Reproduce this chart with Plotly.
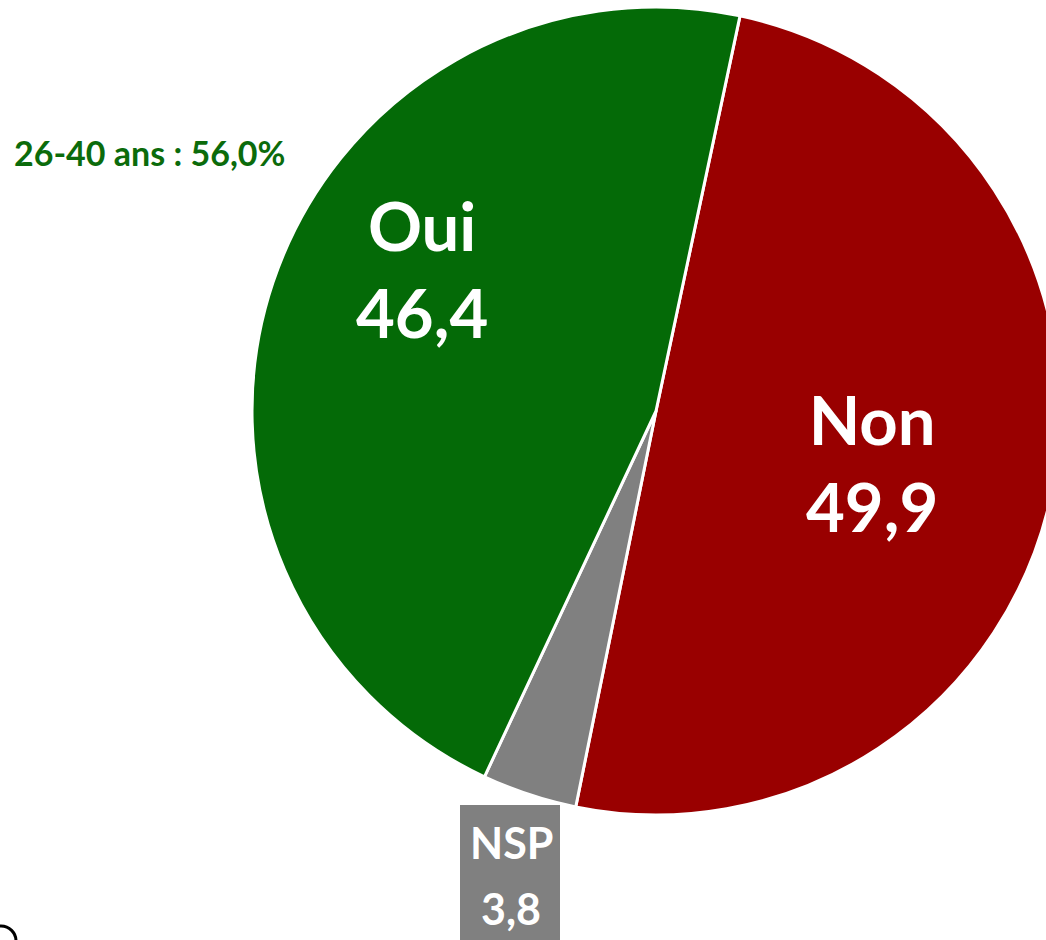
import plotly.graph_objects as go

labels = ["Non", "NSP", "Oui"]
values = [49.9, 3.8, 46.4]
value_text = ["49,9", "3,8", "46,4"]
colors = ["#990000", "#808080", "#046A07"]
note_text = "26-40 ans : 56,0%"

W, H = 1060, 940
cx, cy, r = 656, 411, 404

def px(x):
    return x / W

def py(y):
    return 1 - y / H

fig = go.Figure(go.Pie(
    labels=labels,
    values=values,
    sort=False,
    direction="clockwise",
    rotation=12,
    marker=dict(colors=colors, line=dict(color="white", width=3)),
    textinfo="none",
    hoverinfo="label+value",
    showlegend=False,
    domain=dict(x=[px(cx - r), px(cx + r)], y=[py(cy + r), py(cy - r)]),
))

big = dict(family="Lato", size=67, color="white", weight="bold")
fig.add_annotation(x=px(422), y=py(268), xref="paper", yref="paper",
                   xanchor="center", yanchor="middle",
                   text=f"{labels[2]}<br>{value_text[2]}", showarrow=False,
                   font=big, align="center")
fig.add_annotation(x=px(872), y=py(462), xref="paper", yref="paper",
                   xanchor="center", yanchor="middle",
                   text=f"{labels[0]}<br>{value_text[0]}", showarrow=False,
                   font=big, align="center")

# NSP label box (outside the pie)
fig.add_shape(type="rect", xref="paper", yref="paper",
              x0=px(460), x1=px(560), y0=py(960), y1=py(805),
              fillcolor="#808080", line=dict(width=0), layer="above")
small = dict(family="Lato", size=43, color="white", weight="bold")
fig.add_annotation(x=px(511), y=py(842), xref="paper", yref="paper",
                   xanchor="center", yanchor="middle",
                   text=labels[1], showarrow=False, font=small)
fig.add_annotation(x=px(511), y=py(908), xref="paper", yref="paper",
                   xanchor="center", yanchor="middle",
                   text=value_text[1], showarrow=False, font=small)

fig.add_annotation(x=px(12), y=py(152), xref="paper", yref="paper",
                   xanchor="left", yanchor="middle",
                   text=note_text, showarrow=False,
                   font=dict(family="Lato", size=34, color="#0B6B0B", weight="bold"))

fig.add_shape(type="circle", xref="paper", yref="paper",
              x0=px(-14), x1=px(16), y0=py(956), y1=py(926),
              line=dict(color="black", width=3))

fig.update_layout(width=W, height=H, margin=dict(l=0, r=0, t=0, b=0),
                  paper_bgcolor="white", plot_bgcolor="white")

fig.write_html("out.html", config={"displayModeBar": False},
               post_script="document.body.style.margin='0';")
